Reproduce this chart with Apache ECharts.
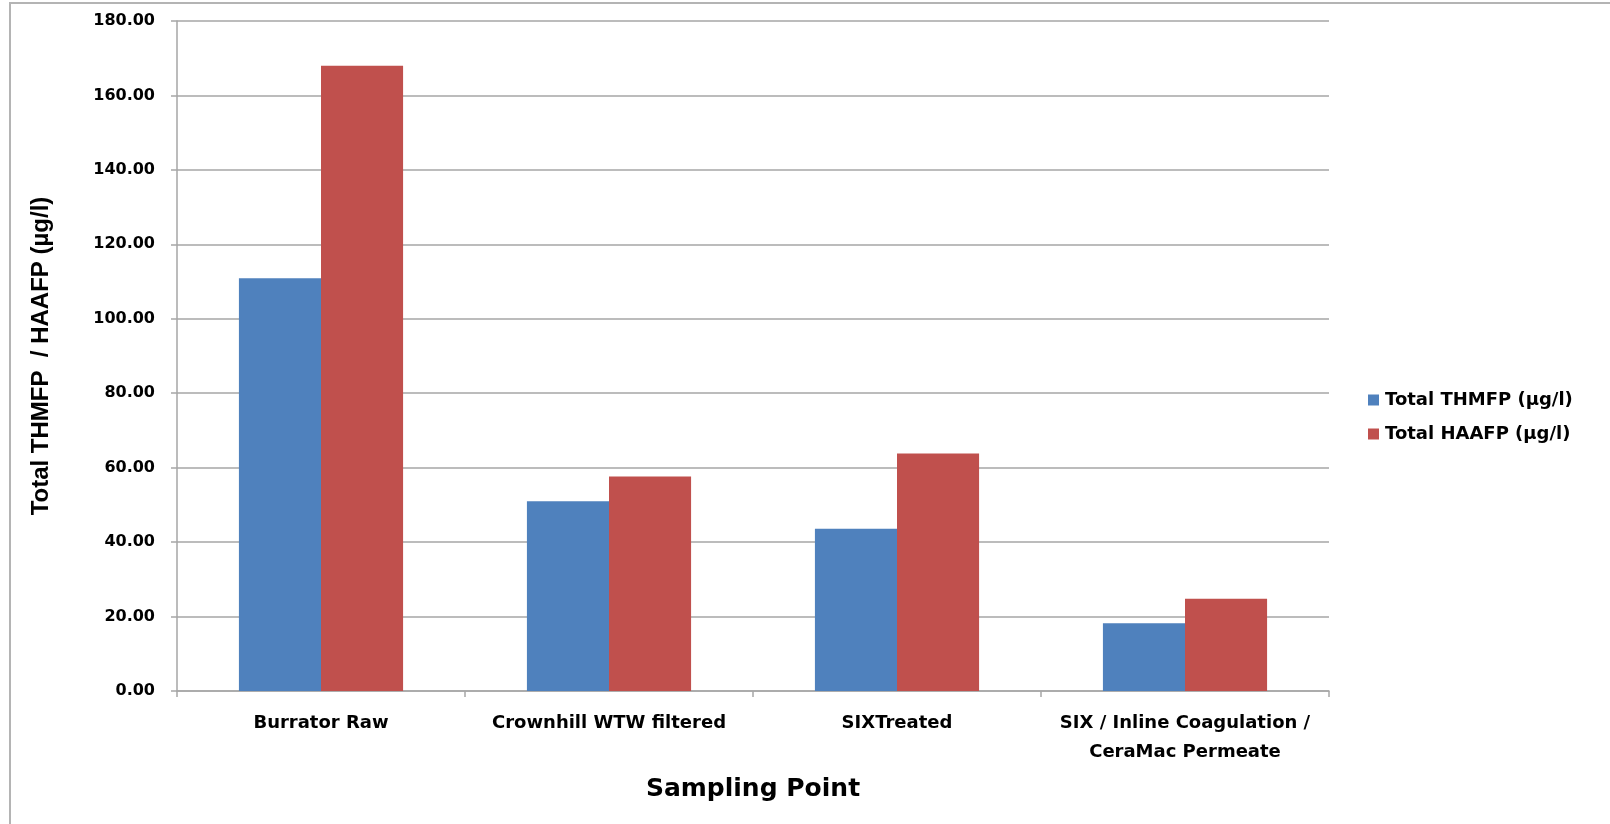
<!DOCTYPE html>
<html>
<head>
<meta charset="utf-8">
<script src="https://cdn.jsdelivr.net/npm/echarts@6/dist/echarts.min.js"></script>
<style>
  html, body { margin: 0; padding: 0; background: #fff; }
  #chart { width: 1610px; height: 824px; }
</style>
</head>
<body>
<div id="chart"></div>
<script>
// Sampling points along the treatment train
const categories = [
  'Burrator Raw',
  'Crownhill WTW filtered',
  'SIXTreated',
  'SIX / Inline Coagulation /\nCeraMac Permeate'
];
// Disinfection by-product formation potentials (µg/l)
const thmfp = [110.9, 51.0, 43.6, 18.2];
const haafp = [168.0, 57.6, 63.8, 24.8];
const seriesNames = ['Total THMFP (µg/l)', 'Total HAAFP (µg/l)'];
const yTicks = { min: 0, max: 180, interval: 20 };

const wide = '"DejaVu Sans", Verdana, sans-serif';
const narrow = '"Liberation Sans Narrow", "Liberation Sans", Arial, sans-serif';
const gridGray = '#a6a6a6';

const chart = echarts.init(document.getElementById('chart'), null, { renderer: 'canvas' });
chart.setOption({
  backgroundColor: '#fff',
  animation: false,
  graphic: [{
    type: 'rect',
    shape: { x: 10, y: 3, width: 1700, height: 900 },
    style: { fill: 'none', stroke: '#b4b4b4', lineWidth: 2 },
    silent: true
  }],
  grid: { left: 177, right: 281, top: 21, bottom: 133, containLabel: false },
  legend: {
    orient: 'vertical',
    left: 1363,
    top: 386,
    itemWidth: 11,
    itemHeight: 11,
    itemGap: 16,
    icon: 'rect',
    textStyle: { fontFamily: wide, fontWeight: 'bold', fontSize: 18, color: '#000', padding: [0, 0, 0, 1] },
    data: seriesNames
  },
  xAxis: {
    type: 'category',
    data: categories,
    name: 'Sampling Point',
    nameLocation: 'middle',
    nameGap: 86,
    nameTextStyle: { fontFamily: wide, fontWeight: 'bold', fontSize: 25, color: '#000' },
    axisLine: { lineStyle: { color: gridGray, width: 1.5 } },
    axisTick: { show: true, alignWithLabel: false, length: 6, lineStyle: { color: gridGray, width: 1.5 } },
    axisLabel: {
      interval: 0,
      margin: 18,
      fontFamily: wide,
      fontWeight: 'bold',
      fontSize: 18,
      lineHeight: 29,
      color: '#000'
    }
  },
  yAxis: {
    type: 'value',
    min: yTicks.min,
    max: yTicks.max,
    interval: yTicks.interval,
    name: 'Total THMFP  / HAAFP (µg/l)',
    nameLocation: 'middle',
    nameGap: 124,
    nameRotate: 90,
    nameTextStyle: { fontFamily: narrow, fontWeight: 'bold', fontSize: 24, color: '#000' },
    axisLine: { show: true, lineStyle: { color: gridGray, width: 1.5 } },
    axisTick: { show: true, length: 6, lineStyle: { color: gridGray, width: 1.5 } },
    axisLabel: {
      margin: 22,
      fontFamily: wide,
      fontWeight: 'bold',
      fontSize: 16,
      color: '#000',
      formatter: v => v.toFixed(2)
    },
    splitLine: { show: true, lineStyle: { color: gridGray, width: 1.5 } }
  },
  series: [
    {
      name: seriesNames[0],
      type: 'bar',
      data: thmfp,
      barGap: '0%',
      barCategoryGap: '43%',
      itemStyle: { color: '#4F81BD' }
    },
    {
      name: seriesNames[1],
      type: 'bar',
      data: haafp,
      barGap: '0%',
      barCategoryGap: '43%',
      itemStyle: { color: '#C0504D' }
    }
  ]
});
</script>
</body>
</html>
